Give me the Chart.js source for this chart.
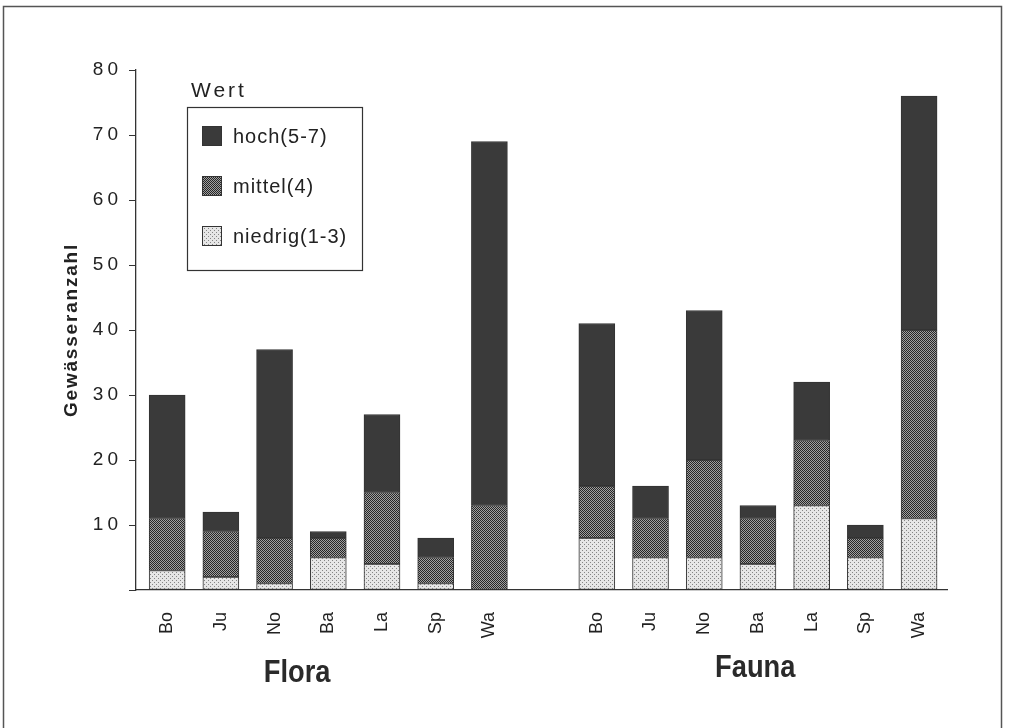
<!DOCTYPE html>
<html><head><meta charset="utf-8">
<script src="https://cdn.jsdelivr.net/npm/chart.js@4/dist/chart.umd.min.js"></script>
<style>html,body{margin:0;padding:0;background:#fff}canvas{display:block}</style>
</head><body>
<canvas id="c" width="1009" height="728"></canvas>
<script>
// ---- data ----
const categories = ['Bo','Ju','No','Ba','La','Sp','Wa'];
const groups = ['Flora','Fauna'];
const seriesNames = ['niedrig(1-3)','mittel(4)','hoch(5-7)'];
const floraNiedrig = [3,2,1,5,4,1,0];
const floraMittel  = [8,7,7,3,11,4,13];
const floraHoch    = [19,3,29,1,12,3,56];
const faunaNiedrig = [8,5,5,4,13,5,11];
const faunaMittel  = [8,6,15,7,10,3,29];
const faunaHoch    = [25,5,23,2,9,2,36];
const yTicks = [0,10,20,30,40,50,60,70,80];
const legendTitle = 'Wert';
const yTitle = 'Gewässeranzahl';

// positions: flora 0..6, gap, fauna 8..14
const groupStart = [0, 8];
const positions = [];
const labelAt = {};
groups.forEach((g, gi) => categories.forEach((c, i) => { const p = groupStart[gi] + i; positions.push(p); labelAt[p] = c; }));

function series(flora, fauna) {
  return flora.map((v, i) => ({x: groupStart[0] + i, y: v}))
    .concat(fauna.map((v, i) => ({x: groupStart[1] + i, y: v})));
}

const canvas = document.getElementById('c');
const mainCtx = canvas.getContext('2d');
function makePattern(w, h, bg, fg, dots) {
  const t = document.createElement('canvas'); t.width = w; t.height = h;
  const g = t.getContext('2d'); g.fillStyle = bg; g.fillRect(0, 0, w, h);
  g.fillStyle = fg; dots.forEach(([x, y]) => g.fillRect(x, y, 1, 1));
  return mainCtx.createPattern(t, 'repeat');
}
const fillHoch = '#3a3a3a';
const fillMittel = makePattern(2, 2, '#a0a0a0', '#262626', [[0,0],[1,1]]);
const fillNiedrig = makePattern(4, 4, '#e6e6e6', '#858585', [[0,0],[2,2]]);

const FONT = "'Liberation Sans', Arial, Helvetica, sans-serif";
Chart.defaults.font.family = FONT;
Chart.defaults.color = '#222';

function spaced(scale, method, spacing) {
  const flag = '_sp_' + method;
  if (scale[flag]) return;
  scale[flag] = true;
  const orig = scale[method];
  scale[method] = function (...args) {
    const c = this.ctx; c.save(); c.letterSpacing = spacing;
    orig.apply(this, args); c.restore();
  };
}

const frame = {
  id: 'frame',
  afterDraw(chart) {
    const c = chart.ctx; c.save();
    c.strokeStyle = '#555'; c.lineWidth = 1.5;
    c.beginPath(); c.moveTo(3.5, 728); c.lineTo(3.5, 6.5); c.lineTo(1001.5, 6.5); c.lineTo(1001.5, 728); c.stroke();
    c.restore();
  }
};

const groupLabels = {
  id: 'groupLabels',
  afterDraw(chart) {
    const c = chart.ctx, xs = chart.scales.x;
    const centers = [2.42, 10.95], ys = [673, 668];
    groups.forEach((g, i) => {
      c.save(); c.fillStyle = '#2a2a2a';
      c.font = "bold 31px " + FONT;
      c.textAlign = 'center'; c.textBaseline = 'middle';
      c.translate(xs.getPixelForValue(centers[i]), ys[i]);
      c.scale(0.88, 1);
      c.fillText(g, 0, 0);
      c.restore();
    });
  }
};

const boxLegend = {
  id: 'boxLegend',
  afterDraw(chart) {
    const c = chart.ctx; c.save();
    c.fillStyle = '#222'; c.textBaseline = 'alphabetic'; c.textAlign = 'left';
    c.font = '21px ' + FONT; c.letterSpacing = '3px';
    c.fillText(legendTitle, 191, 97);
    c.strokeStyle = '#333'; c.lineWidth = 1.2;
    c.strokeRect(187.5, 107.5, 175, 163);
    const ds = chart.data.datasets.slice().reverse();
    c.letterSpacing = '1px';
    ds.forEach((d, i) => {
      const y = 126 + i * 50;
      c.fillStyle = d.backgroundColor; c.fillRect(202, y, 20, 20);
      c.strokeStyle = '#333'; c.lineWidth = 1; c.strokeRect(202.5, y + 0.5, 19, 19);
      c.fillStyle = '#222'; c.font = '20px ' + FONT; c.textBaseline = 'middle';
      c.fillText(d.label, 233, y + 11);
    });
    c.restore();
  }
};

new Chart(canvas, {
  type: 'bar',
  data: {
    datasets: [
      {label: seriesNames[0], data: series(floraNiedrig, faunaNiedrig), backgroundColor: fillNiedrig},
      {label: seriesNames[1], data: series(floraMittel, faunaMittel), backgroundColor: fillMittel},
      {label: seriesNames[2], data: series(floraHoch, faunaHoch), backgroundColor: fillHoch}
    ].map(d => Object.assign(d, {stack: 's', borderColor: '#333', borderWidth: 1, barThickness: 36, borderSkipped: false}))
  },
  options: {
    responsive: false,
    animation: false,
    layout: {padding: {top: 70, right: 62, left: 0, bottom: 0}},
    plugins: {legend: {display: false}, tooltip: {enabled: false}},
    scales: {
      x: {
        type: 'linear', min: -0.58, max: 14.52, offset: false,
        afterBuildTicks: s => { s.ticks = positions.map(v => ({value: v})); },
        afterFit: s => { s.height = 138; },
        ticks: {autoSkip: false, minRotation: 90, maxRotation: 90, padding: 14, font: {size: 18}, color: '#222',
                callback: v => labelAt[v] !== undefined ? labelAt[v] : ''},
        grid: {display: false},
        border: {display: true, color: '#333', width: 1.3}
      },
      y: {
        min: 0, max: 80, stacked: true,
        afterBuildTicks: s => { s.ticks = yTicks.map(v => ({value: v})); },
        afterFit: s => { s.width = 136; spaced(s, 'drawLabels', '4px'); spaced(s, 'drawTitle', '1.8px'); },
        ticks: {padding: 7, font: {size: 19}, color: '#222', callback: v => v === 0 ? '' : String(v)},
        grid: {drawOnChartArea: false, tickLength: 7, color: '#333'},
        border: {display: true, color: '#333', width: 1.3},
        title: {display: true, text: yTitle, font: {size: 19, weight: 'bold'}, color: '#222', padding: {top: 60, bottom: 0}}
      }
    }
  },
  plugins: [frame, groupLabels, boxLegend]
});
</script>
</body></html>
